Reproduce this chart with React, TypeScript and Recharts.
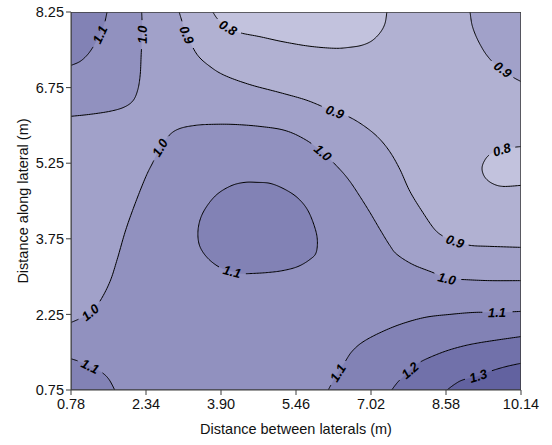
import React from 'react';
import { ComposedChart, XAxis, YAxis, Scatter, Label } from 'recharts';

type Pt = [number, number];
type XY = { x: number; y: number };

const xTicks = [0.78, 2.34, 3.9, 5.46, 7.02, 8.58, 10.14];
const yTicks = [0.75, 2.25, 3.75, 5.25, 6.75, 8.25];
const xDomain: Pt = [0.78, 10.14];
const yDomain: Pt = [0.75, 8.25];

// contour lines (x = between laterals, y = along lateral, metres)
const c11TopLeft: Pt[] = [[0.78, 7.19], [0.97, 7.27], [1.13, 7.41], [1.26, 7.59], [1.38, 7.8], [1.47, 8.0], [1.53, 8.25]];
const c10TopLeft: Pt[] = [[2.25, 8.25], [2.26, 8.0], [2.26, 7.8], [2.24, 7.41], [2.22, 7.01], [2.17, 6.71], [2.07, 6.49], [1.88, 6.36], [1.59, 6.28], [1.18, 6.22], [0.78, 6.18]];
const c09Main: Pt[] = [[3.03, 8.25], [3.11, 8.0], [3.19, 7.8], [3.4, 7.41], [3.67, 7.17], [3.98, 6.99], [4.5, 6.81], [5.13, 6.65], [5.65, 6.51], [6.02, 6.37], [6.27, 6.27], [6.58, 6.16], [6.89, 5.98], [7.17, 5.76], [7.41, 5.48], [7.62, 5.13], [7.83, 4.69], [8.1, 4.27], [8.35, 3.93], [8.56, 3.78], [8.77, 3.7], [9.08, 3.62], [9.49, 3.6], [10.14, 3.58]];
const c09TopRight: Pt[] = [[9.08, 8.25], [9.12, 8.0], [9.2, 7.78], [9.31, 7.57], [9.43, 7.39], [9.6, 7.21], [9.76, 7.11], [9.95, 6.97], [10.14, 6.87]];
const c08Top: Pt[] = [[3.73, 8.25], [3.84, 8.1], [4.05, 7.94], [4.29, 7.84], [4.71, 7.76], [5.19, 7.66], [5.75, 7.57], [6.27, 7.53], [6.58, 7.55], [6.83, 7.59], [7.04, 7.68], [7.21, 7.84], [7.31, 8.02], [7.35, 8.25]];
const c08Right: Pt[] = [[10.14, 5.58], [9.95, 5.56], [9.74, 5.52], [9.49, 5.42], [9.37, 5.28], [9.33, 5.13], [9.39, 4.97], [9.54, 4.85], [9.76, 4.79], [10.14, 4.81]];
const c10Main: Pt[] = [[0.78, 2.09], [0.97, 2.17], [1.18, 2.29], [1.38, 2.51], [1.59, 2.9], [1.74, 3.34], [1.92, 3.93], [2.13, 4.49], [2.34, 4.99], [2.49, 5.28], [2.63, 5.56], [2.84, 5.82], [3.05, 5.94], [3.36, 6.0], [3.67, 6.02], [4.15, 6.02], [4.71, 5.98], [5.23, 5.9], [5.65, 5.72], [6.02, 5.46], [6.37, 5.13], [6.58, 4.89], [6.79, 4.59], [7.0, 4.27], [7.21, 3.93], [7.41, 3.62], [7.56, 3.44], [7.89, 3.24], [8.31, 3.08], [8.6, 2.96], [8.97, 2.94], [9.49, 2.92], [10.14, 2.92]];
const c11Centre: Pt[] = [[4.65, 4.87], [4.92, 4.85], [5.19, 4.75], [5.46, 4.59], [5.67, 4.37], [5.81, 4.09], [5.9, 3.77], [5.88, 3.48], [5.75, 3.34], [5.5, 3.2], [5.19, 3.12], [4.86, 3.08], [4.5, 3.06], [4.29, 3.06], [4.13, 3.1], [3.88, 3.18], [3.63, 3.36], [3.46, 3.6], [3.42, 3.88], [3.48, 4.17], [3.63, 4.43], [3.84, 4.65], [4.13, 4.81], [4.4, 4.87]];
const c11BottomLeft: Pt[] = [[0.78, 1.37], [0.97, 1.31], [1.18, 1.22], [1.42, 1.1], [1.57, 0.96], [1.69, 0.75]];
const c11BottomRight: Pt[] = [[6.13, 0.75], [6.21, 0.89], [6.33, 1.09], [6.48, 1.31], [6.62, 1.51], [6.83, 1.69], [7.17, 1.87], [7.62, 2.05], [8.14, 2.19], [8.66, 2.25], [9.18, 2.29], [9.64, 2.29], [10.14, 2.31]];
const c12: Pt[] = [[7.45, 0.75], [7.58, 0.91], [7.73, 1.05], [7.83, 1.14], [8.0, 1.28], [8.25, 1.4], [8.6, 1.53], [8.97, 1.63], [9.29, 1.69], [9.7, 1.75], [10.14, 1.81]];
const c13: Pt[] = [[8.6, 0.75], [8.77, 0.87], [8.93, 0.95], [9.25, 1.03], [9.56, 1.14], [9.85, 1.22], [10.14, 1.28]];

const TL: Pt = [0.78, 8.25];
const TR: Pt = [10.14, 8.25];
const BL: Pt = [0.78, 0.75];
const BR: Pt = [10.14, 0.75];

// band colours, low -> high
const bandColors = ['#c2c2dd', '#b1b1d2', '#a1a1c9', '#9191bf', '#8282b5', '#7171aa', '#6262a0'];

const contours = [
  { level: '1.1', pts: c11TopLeft, labels: [4] },
  { level: '1.0', pts: c10TopLeft, labels: [2] },
  { level: '0.9', pts: c09Main, labels: [2, 10, 20] },
  { level: '0.9', pts: c09TopRight, labels: [6] },
  { level: '0.8', pts: c08Top, labels: [2] },
  { level: '0.8', pts: c08Right, labels: [2] },
  { level: '1.0', pts: c10Main, labels: [2, 10, 19, 29] },
  { level: '1.1', pts: c11Centre, labels: [14], closed: true },
  { level: '1.1', pts: c11BottomLeft, labels: [2] },
  { level: '1.1', pts: c11BottomRight, labels: [2, 11] },
  { level: '1.2', pts: c12, labels: [3] },
  { level: '1.3', pts: c13, labels: [3] },
];

type Piece = { pts: Pt[]; smooth?: boolean; closed?: boolean };
const rev = (p: Pt[]) => [...p].reverse();

// painted in order, each one over the last
const regions: { fill: string; pieces: Piece[] }[] = [
  { fill: bandColors[2], pieces: [{ pts: [BL, TL, TR, BR] }] },
  { fill: bandColors[1], pieces: [{ pts: c09TopRight, smooth: true }, { pts: rev(c09Main), smooth: true }] },
  { fill: bandColors[0], pieces: [{ pts: c08Top, smooth: true }] },
  { fill: bandColors[0], pieces: [{ pts: c08Right, smooth: true }] },
  { fill: bandColors[3], pieces: [{ pts: c10TopLeft, smooth: true }, { pts: [TL] }] },
  { fill: bandColors[3], pieces: [{ pts: c10Main, smooth: true }, { pts: [BR, BL] }] },
  { fill: bandColors[4], pieces: [{ pts: c11TopLeft, smooth: true }, { pts: [TL] }] },
  { fill: bandColors[4], pieces: [{ pts: c11Centre, smooth: true, closed: true }] },
  { fill: bandColors[4], pieces: [{ pts: c11BottomLeft, smooth: true }, { pts: [BL] }] },
  { fill: bandColors[4], pieces: [{ pts: c11BottomRight, smooth: true }, { pts: [BR] }] },
  { fill: bandColors[5], pieces: [{ pts: c12, smooth: true }, { pts: [BR] }] },
  { fill: bandColors[6], pieces: [{ pts: c13, smooth: true }, { pts: [BR] }] },
];

const FONT = 'Liberation Sans, Arial, Helvetica, sans-serif';
const STEPS = 12;

const toXY = (p: Pt[]) => p.map(([x, y]) => ({ x, y }));

function crSegments(p: XY[], closed: boolean) {
  const n = p.length;
  const at = (i: number) => (closed ? p[(i + n) % n] : p[Math.max(0, Math.min(n - 1, i))]);
  const segs: XY[][] = [];
  const count = closed ? n : n - 1;
  for (let i = 0; i < count; i++) {
    const p0 = at(i - 1), p1 = at(i), p2 = at(i + 1), p3 = at(i + 2);
    segs.push([
      p1,
      { x: p1.x + (p2.x - p0.x) / 6, y: p1.y + (p2.y - p0.y) / 6 },
      { x: p2.x - (p3.x - p1.x) / 6, y: p2.y - (p3.y - p1.y) / 6 },
      p2,
    ]);
  }
  return segs;
}

const f = (v: number) => v.toFixed(2);

function regionShape(pieces: Piece[], fill: string) {
  return (lp: any) => {
    const pts: XY[] = lp.points;
    let i = 0;
    let d = '';
    pieces.forEach((pc, k) => {
      const seg = pts.slice(i, i + pc.pts.length);
      i += pc.pts.length;
      d += (k === 0 ? 'M' : 'L') + f(seg[0].x) + ',' + f(seg[0].y);
      if (pc.smooth) {
        crSegments(seg, !!pc.closed).forEach(([, a, b, c]) => {
          d += `C${f(a.x)},${f(a.y)} ${f(b.x)},${f(b.y)} ${f(c.x)},${f(c.y)}`;
        });
      } else {
        seg.slice(1).forEach((p) => (d += `L${f(p.x)},${f(p.y)}`));
      }
    });
    return <path d={d + 'Z'} fill={fill} stroke="none" />;
  };
}

function contourShape(level: string, labels: number[], closed: boolean) {
  return (lp: any) => {
    const segs = crSegments(lp.points, closed);
    const dense: XY[] = [];
    segs.forEach(([a, b, c, e]) => {
      for (let k = 0; k < STEPS; k++) {
        const t = k / STEPS, u = 1 - t;
        dense.push({
          x: u * u * u * a.x + 3 * u * u * t * b.x + 3 * u * t * t * c.x + t * t * t * e.x,
          y: u * u * u * a.y + 3 * u * u * t * b.y + 3 * u * t * t * c.y + t * t * t * e.y,
        });
      }
    });
    dense.push(segs[segs.length - 1][3]);
    const cum = [0];
    for (let j = 1; j < dense.length; j++) {
      cum.push(cum[j - 1] + Math.hypot(dense[j].x - dense[j - 1].x, dense[j].y - dense[j - 1].y));
    }
    const half = level.length * 13 * 0.28 + 2.5;
    const centres = labels.map((k) => cum[k * STEPS]);
    const pointAt = (s: number) => {
      let j = 1;
      while (j < cum.length - 1 && cum[j] < s) j++;
      const t = Math.max(0, Math.min(1, (s - cum[j - 1]) / (cum[j] - cum[j - 1] || 1)));
      return { x: dense[j - 1].x + t * (dense[j].x - dense[j - 1].x), y: dense[j - 1].y + t * (dense[j].y - dense[j - 1].y) };
    };
    let d = '';
    let pen = false;
    dense.forEach((p, j) => {
      if (centres.some((c) => Math.abs(cum[j] - c) < half)) {
        pen = false;
        return;
      }
      d += (pen ? 'L' : 'M') + f(p.x) + ',' + f(p.y);
      pen = true;
    });
    return (
      <g>
        <path d={d} fill="none" stroke="#000" strokeWidth={1} />
        {centres.map((c, i) => {
          const p = pointAt(c);
          const a = pointAt(c - half);
          const b = pointAt(c + half);
          let ang = (Math.atan2(b.y - a.y, b.x - a.x) * 180) / Math.PI;
          if (ang >= 90) ang -= 180;
          if (ang < -90) ang += 180;
          return (
            <text
              key={i}
              x={p.x}
              y={p.y}
              dy="0.36em"
              transform={`rotate(${ang.toFixed(1)},${f(p.x)},${f(p.y)})`}
              textAnchor="middle"
              fontSize={13}
              fontWeight="bold"
              fontStyle="italic"
              fontFamily={FONT}
              fill="#000"
            >
              {level}
            </text>
          );
        })}
      </g>
    );
  };
}

const borderShape = (lp: any) => {
  const p: XY[] = lp.points;
  const d = p.map((q, i) => (i === 0 ? 'M' : 'L') + f(q.x) + ',' + f(q.y)).join('') + 'Z';
  return <path d={d} fill="none" stroke="#3c3c3c" strokeWidth={1.5} />;
};

const noDot = () => null;

export default function App() {
  return (
    <div style={{ position: 'absolute', left: 0, top: 0, width: 552, height: 445, background: '#fff' }}>
      <ComposedChart width={552} height={445} margin={{ top: 12, right: 31, bottom: 0, left: 0 }}>
        <XAxis
          type="number"
          dataKey="x"
          domain={xDomain}
          ticks={xTicks}
          tickFormatter={(v: number) => v.toFixed(2)}
          height={55}
          tickSize={5}
          tickMargin={4}
          axisLine={{ stroke: '#3c3c3c' }}
          tickLine={{ stroke: '#3c3c3c' }}
          tick={{ fontSize: 14.5, fill: '#111', fontFamily: FONT }}
          allowDataOverflow
        >
          <Label value="Distance between laterals (m)" position="insideBottom" offset={11} style={{ fontSize: 14.5, fill: '#111', fontFamily: FONT }} />
        </XAxis>
        <YAxis
          type="number"
          dataKey="y"
          domain={yDomain}
          ticks={yTicks}
          tickFormatter={(v: number) => v.toFixed(2)}
          width={71}
          tickSize={5}
          tickMargin={2}
          axisLine={{ stroke: '#3c3c3c' }}
          tickLine={{ stroke: '#3c3c3c' }}
          tick={{ fontSize: 14.5, fill: '#111', fontFamily: FONT }}
          allowDataOverflow
        >
          <Label value="Distance along lateral (m)" angle={-90} position="insideLeft" offset={23} style={{ fontSize: 14.5, fill: '#111', fontFamily: FONT, textAnchor: 'middle' }} />
        </YAxis>
        {regions.map((r, i) => (
          <Scatter
            key={`r${i}`}
            data={toXY(r.pieces.flatMap((pc) => pc.pts))}
            line={regionShape(r.pieces, r.fill)}
            shape={noDot}
            legendType="none"
            isAnimationActive={false}
          />
        ))}
        {contours.map((c, i) => (
          <Scatter
            key={`c${i}`}
            data={toXY(c.pts)}
            line={contourShape(c.level, c.labels, !!c.closed)}
            shape={noDot}
            legendType="none"
            isAnimationActive={false}
          />
        ))}
        <Scatter data={toXY([BL, TL, TR, BR])} line={borderShape} shape={noDot} legendType="none" isAnimationActive={false} />
      </ComposedChart>
    </div>
  );
}
